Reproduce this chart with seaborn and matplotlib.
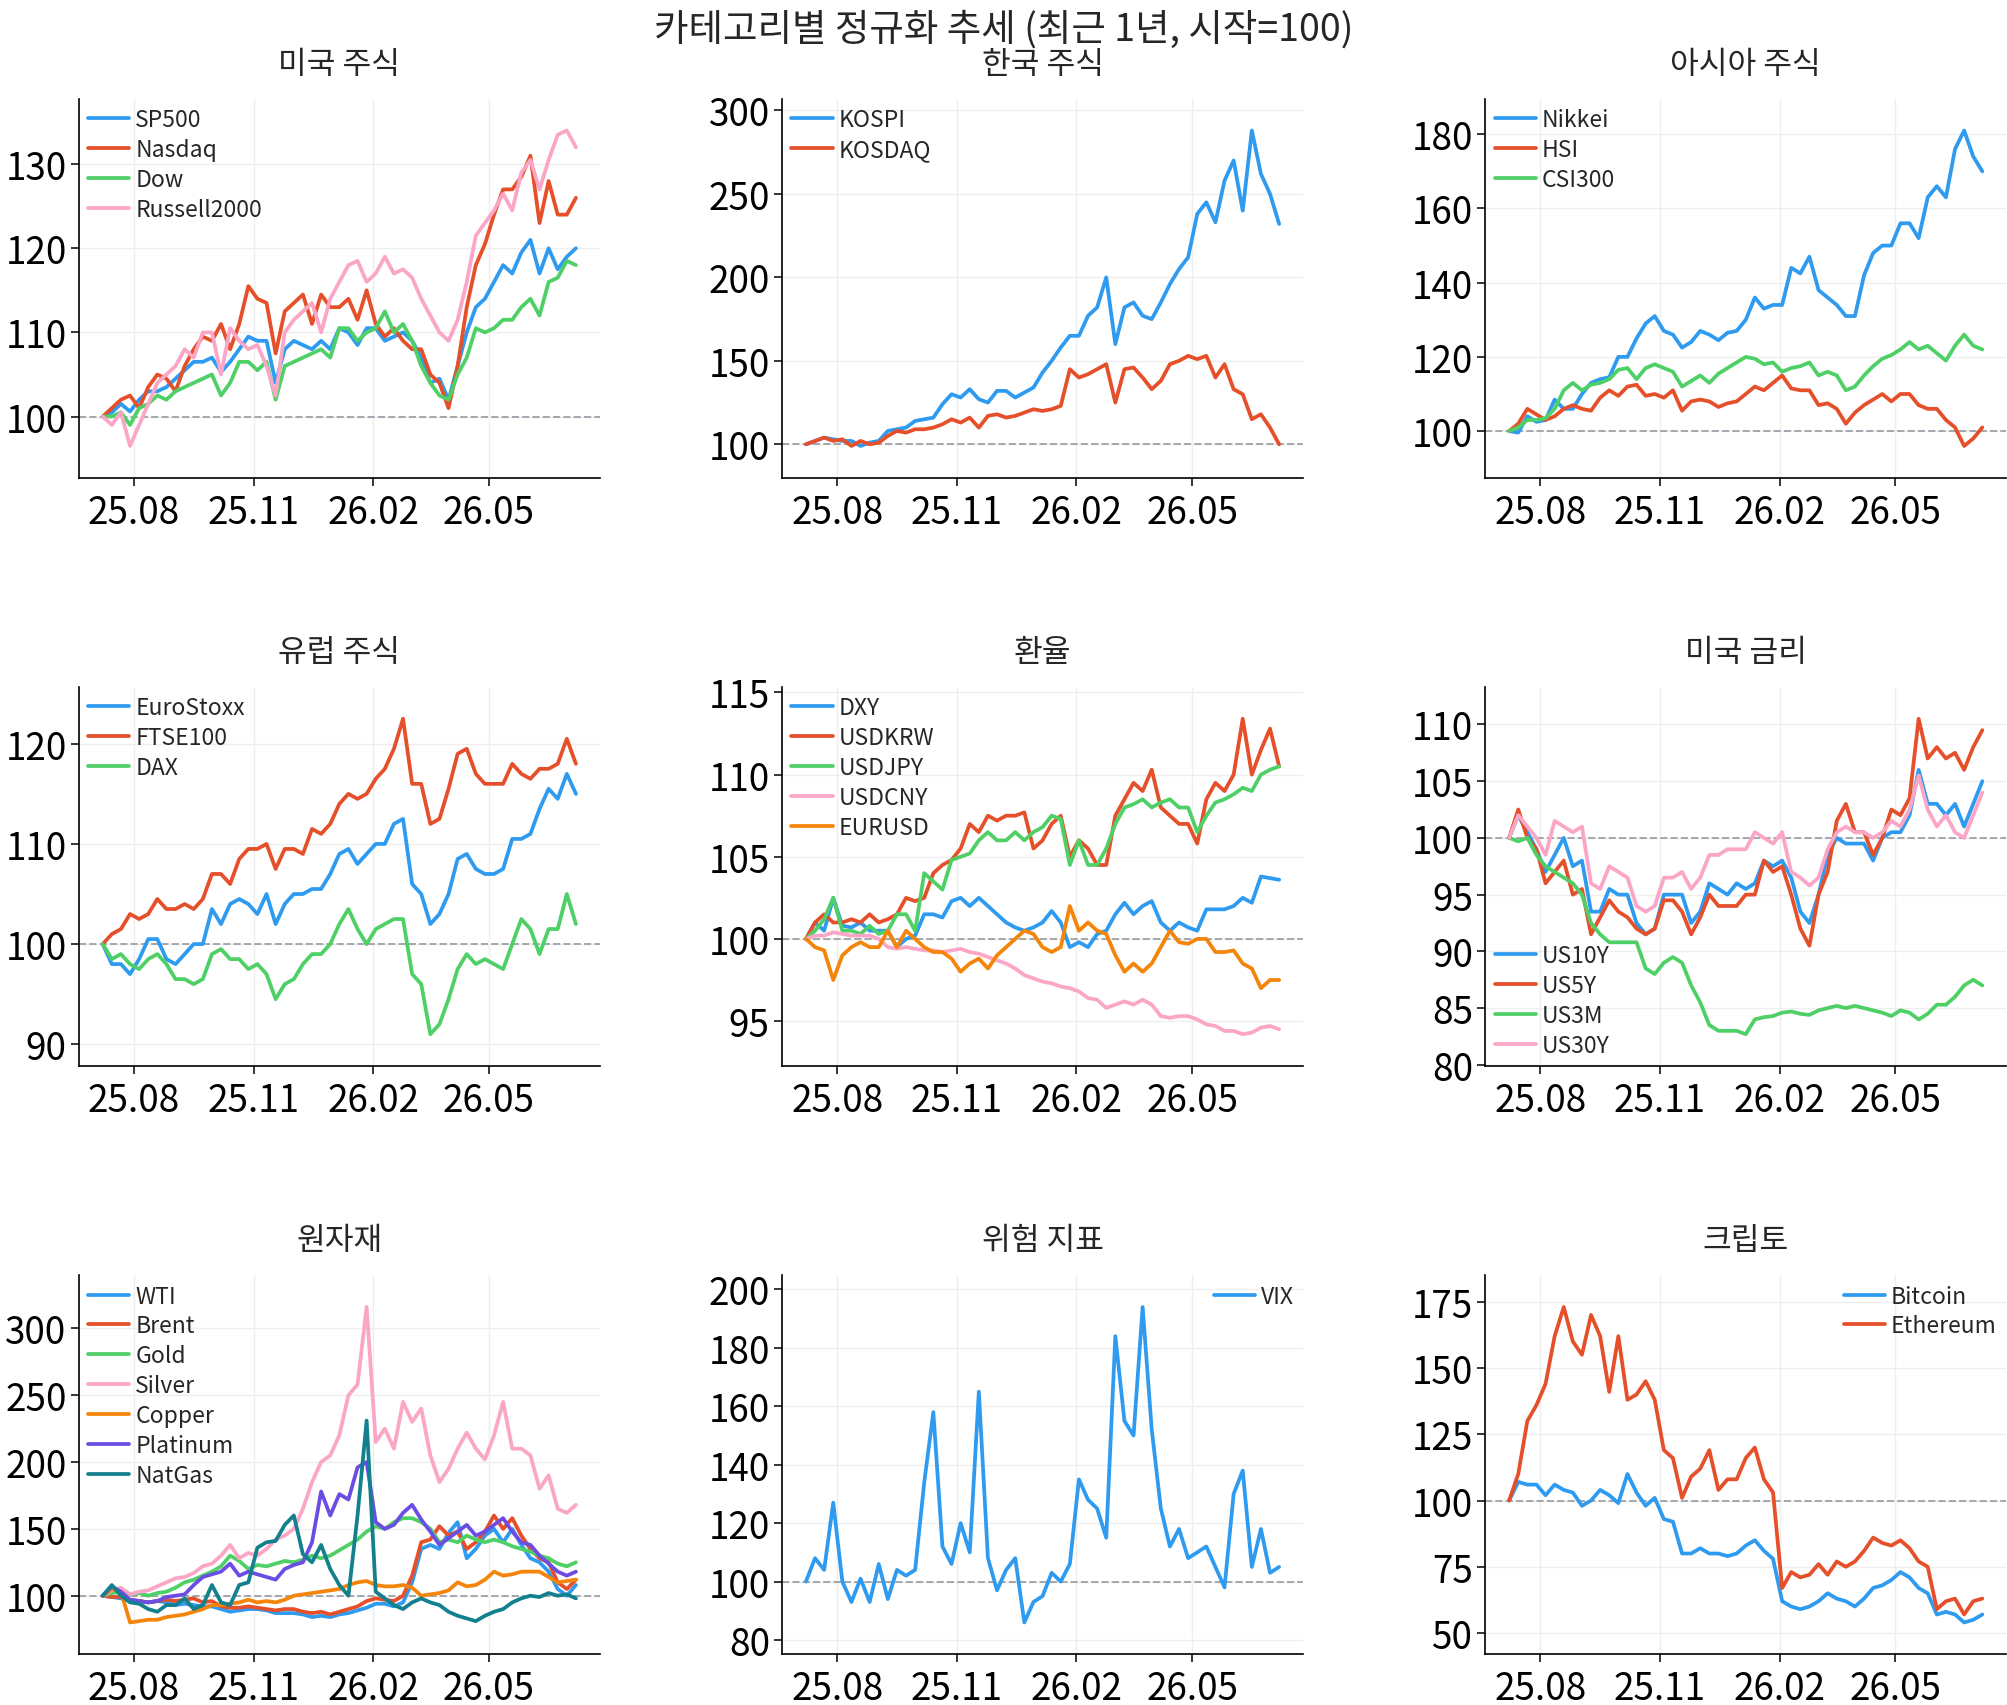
import pandas as pd
import matplotlib
matplotlib.use('Agg')
import matplotlib.pyplot as plt
import matplotlib.dates as mdates
from matplotlib.ticker import MaxNLocator
import seaborn as sns

sns.set_theme(style='ticks')
plt.rcParams['font.family'] = ['Noto Sans CJK KR', 'DejaVu Sans']
plt.rcParams['axes.unicode_minus'] = False

# 주간 샘플 (시작=100)
dates = pd.date_range('2025-07-08', periods=53, freq='7D')

SP500 = [100, 100.5, 101.5, 100.6, 102, 103, 103, 103.5, 104.5, 105.5, 106.5, 106.5, 107, 105.3, 106.5, 108, 109.5, 109, 109, 104,
         108, 109, 108.5, 108, 109, 108, 110.5, 110, 108.5, 110.5, 110.5, 109, 109.5, 110, 109, 107, 104, 104.5, 102, 106,
         110, 113, 114, 116, 118, 117, 119.5, 121, 117, 120, 117.5, 119, 120]
Nasdaq = [100, 101, 102, 102.5, 101, 103.5, 105, 104.5, 103, 106, 108, 109.5, 109, 111, 108, 111, 115.5, 114, 113.5, 107.5,
          112.5, 113.5, 114.5, 111, 114.5, 113, 113, 114, 111.5, 115, 111, 109.5, 110.5, 109, 108, 108, 105, 104, 101, 106,
          113, 118, 120.5, 124, 127, 127, 128.5, 131, 123, 128, 124, 124, 126]
Dow = [100, 100, 100.5, 99, 101, 101.5, 102.5, 102, 103, 103.5, 104, 104.5, 105, 102.5, 104, 106.5, 106.5, 105.5, 106.5, 102,
       106, 106.5, 107, 107.5, 108, 107, 110.5, 110.5, 109, 110, 110.5, 112.5, 110, 111, 109, 106, 104, 102.5, 102, 105,
       107, 110.5, 110, 110.5, 111.5, 111.5, 113, 114, 112, 116, 116.5, 118.5, 118]
Russell2000 = [100, 99, 100.5, 96.5, 99, 101.5, 104, 105, 106, 108, 107, 110, 110, 105, 110.5, 109, 108, 108.5, 106, 102.5,
               110, 111.5, 112.5, 113.5, 110, 114, 116, 118, 118.5, 116, 117, 119, 117, 117.5, 116.5, 114, 112, 110, 109, 111.5,
               116, 121.5, 123, 124.5, 126.5, 124.5, 129, 130.5, 127, 130.5, 133.5, 134, 132]

KOSPI = [100, 102, 104, 103, 102, 102, 99, 101, 102, 108, 109, 110, 114, 115, 116, 124, 130, 128, 133, 127,
         125, 132, 132, 128, 131, 134, 143, 150, 158, 165, 165, 177, 182, 200, 160, 182, 185, 177, 175, 185,
         196, 205, 212, 238, 245, 233, 258, 270, 240, 288, 262, 250, 232]
KOSDAQ = [100, 102, 104, 102, 103, 99, 102, 100, 101, 105, 108, 107, 109, 109, 110, 112, 115, 113, 116, 110,
          117, 118, 116, 117, 119, 121, 120, 121, 123, 145, 140, 142, 145, 148, 125, 145, 146, 140, 133, 138,
          148, 150, 153, 151, 153, 140, 148, 133, 130, 115, 118, 110, 100]

Nikkei = [100, 99.6, 104, 102.5, 103, 108.5, 106, 106, 110, 113, 114, 114.5, 120, 120, 125, 129, 131, 127, 126, 122.5,
          124, 127, 126, 124.5, 126.5, 127, 130, 136, 133, 134, 134, 144, 142.5, 147, 138, 136, 134, 131, 131, 142,
          148, 150, 150, 156, 156, 152, 163, 166, 163, 176, 181, 174, 170]
HSI = [100, 102, 106, 104.5, 103, 104, 106, 107, 106, 105.5, 109, 111, 109.5, 112, 112.5, 109.5, 110, 109, 111, 105.5,
       108, 108.5, 108, 106.5, 107.5, 108, 110, 112, 111, 113, 115, 111.5, 111, 111, 107, 107.5, 106, 102, 105, 107,
       108.5, 110, 108, 110, 110, 107, 106, 106, 103, 101, 96, 98, 101]
CSI300 = [100, 101, 103, 103, 103.5, 106, 111, 113, 111, 112.5, 113, 114, 116.5, 117, 114, 117, 118, 117, 116, 112,
          113.5, 115, 113, 115.5, 117, 118.5, 120, 119.5, 118, 118.5, 116, 117, 117.5, 118.5, 115, 116, 115, 111, 112, 115,
          117.5, 119.5, 120.5, 122, 124, 122, 123, 121, 119, 123, 126, 123, 122]

EuroStoxx = [100, 98, 98, 97, 98.5, 100.5, 100.5, 98.5, 98, 99, 100, 100, 103.5, 102, 104, 104.5, 104, 103, 105, 102,
             104, 105, 105, 105.5, 105.5, 107, 109, 109.5, 108, 109, 110, 110, 112, 112.5, 106, 105, 102, 103, 105, 108.5,
             109, 107.5, 107, 107, 107.5, 110.5, 110.5, 111, 113.5, 115.5, 114.5, 117, 115]
FTSE100 = [100, 101, 101.5, 103, 102.5, 103, 104.5, 103.5, 103.5, 104, 103.5, 104.5, 107, 107, 106, 108.5, 109.5, 109.5, 110, 107.5,
           109.5, 109.5, 109, 111.5, 111, 112, 114, 115, 114.5, 115, 116.5, 117.5, 119.5, 122.5, 116, 116, 112, 112.5, 115.5, 119,
           119.5, 117, 116, 116, 116, 118, 117, 116.5, 117.5, 117.5, 118, 120.5, 118]
DAX = [100, 98.5, 99, 98, 97.5, 98.5, 99, 98, 96.5, 96.5, 96, 96.5, 99, 99.5, 98.5, 98.5, 97.5, 98, 97, 94.5,
       96, 96.5, 98, 99, 99, 100, 102, 103.5, 101.5, 100, 101.5, 102, 102.5, 102.5, 97, 96, 91, 92, 94.5, 97.5,
       99, 98, 98.5, 98, 97.5, 100, 102.5, 101.5, 99, 101.5, 101.5, 105, 102]

DXY = [100, 101, 100.5, 102.5, 100.8, 100.7, 101, 100.5, 100.5, 100.5, 99.5, 100, 100.2, 101.5, 101.5, 101.3, 102.3, 102.5, 102, 102.5,
       102, 101.5, 101, 100.7, 100.5, 100.7, 101, 101.7, 101, 99.5, 99.8, 99.5, 100.3, 100.5, 101.5, 102.2, 101.5, 102, 102.3, 101,
       100.5, 101, 100.7, 100.5, 101.8, 101.8, 101.8, 102, 102.5, 102.2, 103.8, 103.7, 103.6]
USDKRW = [100, 101, 101.5, 101, 101, 101.2, 101, 101.5, 101, 101.2, 101.5, 102.5, 102.3, 102.5, 104, 104.5, 104.8, 105.5, 107, 106.5,
          107.5, 107.2, 107.5, 107.5, 107.7, 105.5, 106, 107, 107.5, 105, 106, 105.5, 104.5, 104.5, 107.5, 108.5, 109.5, 109, 110.3, 108,
          107.5, 107, 107, 105.8, 108.5, 109.5, 109, 110, 113.4, 110, 111.5, 112.8, 110.5]
USDJPY = [100, 100.5, 101.2, 102.5, 100.5, 100.5, 100.3, 100.8, 100.3, 100.5, 101.5, 101.5, 100.5, 104, 103.5, 103, 104.8, 105, 105.2, 106,
          106.5, 106, 106, 106.5, 106, 106.5, 106.8, 107.5, 107.3, 104.5, 106, 104.5, 104.5, 105.5, 107, 108, 108.2, 108.5, 108, 108.3,
          108.5, 108, 108, 106.5, 107.5, 108.3, 108.5, 108.8, 109.2, 109, 110, 110.3, 110.5]
USDCNY = [100, 100.2, 100.2, 100.4, 100.3, 100.2, 100.2, 100.2, 100, 99.5, 99.4, 99.5, 99.4, 99.3, 99.3, 99.2, 99.3, 99.4, 99.2, 99.1,
          98.9, 98.7, 98.5, 98.2, 97.8, 97.6, 97.4, 97.3, 97.1, 97, 96.8, 96.4, 96.3, 95.8, 96, 96.2, 96, 96.3, 96, 95.3,
          95.2, 95.3, 95.3, 95.1, 94.8, 94.7, 94.4, 94.4, 94.2, 94.3, 94.6, 94.7, 94.5]
EURUSD = [100, 99.5, 99.3, 97.5, 99, 99.5, 99.8, 99.5, 99.5, 100.5, 99.5, 100.5, 100, 99.5, 99.2, 99.2, 98.8, 98, 98.5, 98.8,
          98.2, 99, 99.5, 100, 100.5, 100.3, 99.5, 99.2, 99.5, 102, 100.5, 101, 100.5, 100.3, 99, 98, 98.5, 98, 98.5, 99.5,
          100.5, 99.8, 99.7, 100, 100, 99.2, 99.2, 99.3, 98.5, 98.2, 97, 97.5, 97.5]

US10Y = [100, 102, 100.5, 99, 97, 98.5, 100, 97.5, 98, 93.5, 93.5, 95.5, 95, 95, 92.5, 91.5, 92, 95, 95, 95,
         92.5, 93.5, 96, 95.5, 95, 96, 95.5, 96, 98, 97.5, 98, 96.5, 93.5, 92.5, 95, 98.5, 100, 99.5, 99.5, 99.5,
         98, 100, 100.5, 100.5, 102, 106, 103, 103, 102, 103, 101, 103, 105]
US5Y = [100, 102.5, 100, 99, 96, 97, 98, 95, 95.5, 91.5, 93, 94.5, 93.5, 93, 92, 91.5, 92, 94.5, 94.5, 93.5,
        91.5, 93, 95, 94, 94, 94, 95, 95, 98, 97, 97.5, 95, 92, 90.5, 95, 97, 101.5, 103, 100.5, 100.5,
        98.5, 100, 102.5, 102, 103.5, 110.5, 107, 108, 107, 107.5, 106, 108, 109.5]
US3M = [100, 99.7, 100, 98.5, 97.5, 97, 96.5, 96, 95, 92.5, 91.5, 90.8, 90.8, 90.8, 90.8, 88.5, 88, 89, 89.5, 89,
        87, 85.5, 83.5, 83, 83, 83, 82.7, 84, 84.2, 84.3, 84.6, 84.7, 84.5, 84.4, 84.8, 85, 85.2, 85, 85.2, 85,
        84.8, 84.6, 84.3, 84.8, 84.6, 84, 84.5, 85.3, 85.3, 86, 87, 87.5, 87]
US30Y = [100, 102, 101, 100, 98.5, 101.5, 101, 100.5, 101, 96, 95.5, 97.5, 97, 96.5, 94, 93.5, 94, 96.5, 96.5, 97,
         95.5, 96.5, 98.5, 98.5, 99, 99, 99, 100.5, 100, 99.5, 100.5, 97, 96.5, 95.8, 96.5, 99, 100.5, 101, 100.5, 100.5,
         100, 100.5, 101.5, 101, 102.5, 105.5, 102.5, 101, 102, 100.5, 100, 102, 104]

WTI = [100, 99, 98, 97, 96, 95, 96, 95, 93, 94, 93, 92, 92, 90, 88, 89, 90, 90, 89, 87,
       87, 87, 86, 84, 85, 84, 86, 87, 89, 91, 94, 94, 92, 95, 110, 135, 138, 135, 147, 155,
       128, 135, 145, 150, 140, 150, 138, 128, 125, 118, 105, 100, 108]
Brent = [100, 99, 99, 97, 96, 95, 96, 97, 96, 97, 98, 95, 96, 92, 91, 91, 92, 91, 90, 89,
         90, 90, 88, 87, 88, 86, 88, 90, 92, 96, 98, 97, 96, 100, 115, 140, 142, 152, 145, 148,
         135, 140, 148, 160, 150, 158, 145, 135, 128, 125, 110, 105, 112]
Gold = [100, 102, 103, 101, 102, 100, 102, 103, 106, 110, 112, 115, 118, 122, 130, 126, 120, 123, 122, 124,
        126, 125, 127, 130, 128, 130, 134, 138, 142, 148, 152, 150, 155, 158, 158, 155, 150, 140, 142, 140,
        145, 142, 140, 142, 140, 137, 135, 133, 130, 128, 124, 122, 125]
Silver = [100, 104, 106, 101, 103, 104, 107, 110, 113, 114, 117, 122, 124, 130, 138, 128, 132, 130, 135, 142,
          145, 150, 165, 185, 200, 205, 220, 250, 258, 316, 215, 225, 210, 245, 230, 240, 205, 185, 195, 210,
          222, 210, 202, 220, 245, 210, 210, 205, 180, 190, 165, 162, 168]
Copper = [100, 105, 103, 80, 81, 82, 82, 84, 85, 86, 88, 90, 93, 93, 94, 95, 97, 95, 96, 95,
          97, 100, 101, 102, 103, 104, 105, 108, 110, 111, 108, 107, 107, 108, 106, 100, 101, 102, 104, 110,
          107, 108, 112, 118, 115, 116, 118, 118, 118, 114, 110, 111, 112]
Platinum = [100, 107, 103, 97, 96, 95, 96, 99, 100, 101, 108, 114, 116, 118, 124, 115, 118, 116, 114, 112,
            120, 123, 125, 140, 178, 160, 176, 172, 196, 200, 155, 150, 153, 162, 168, 157, 148, 138, 143, 148,
            153, 145, 148, 153, 158, 148, 140, 138, 130, 124, 118, 115, 118]
NatGas = [100, 108, 100, 95, 94, 90, 88, 93, 93, 98, 90, 93, 108, 95, 93, 108, 110, 136, 140, 141,
          153, 160, 131, 125, 138, 120, 108, 100, 160, 231, 103, 98, 93, 90, 95, 98, 95, 93, 88, 85,
          83, 81, 85, 88, 90, 95, 98, 100, 99, 102, 100, 101, 98]

VIX = [100, 108, 104, 127, 100, 93, 101, 93, 106, 94, 104, 102, 104, 134, 158, 112, 106, 120, 110, 165,
       108, 97, 104, 108, 86, 93, 95, 103, 100, 106, 135, 128, 125, 115, 184, 155, 150, 194, 152, 125,
       112, 118, 108, 110, 112, 105, 98, 130, 138, 105, 118, 103, 105]

Bitcoin = [100, 107, 106, 106, 102, 106, 104, 103, 98, 100, 104, 102, 99, 110, 103, 98, 101, 93, 92, 80,
           80, 82, 80, 80, 79, 80, 83, 85, 81, 78, 62, 60, 59, 60, 62, 65, 63, 62, 60, 63,
           67, 68, 70, 73, 71, 67, 65, 57, 58, 57, 54, 55, 57]
Ethereum = [100, 110, 130, 136, 144, 162, 173, 160, 155, 170, 162, 141, 162, 138, 140, 145, 138, 119, 116, 101,
            109, 112, 119, 104, 108, 108, 116, 120, 108, 103, 67, 73, 71, 72, 76, 72, 77, 75, 77, 81,
            86, 84, 83, 85, 82, 77, 75, 59, 62, 63, 57, 62, 63]

COLORS = ['#2E9BF0', '#E5502A', '#4FD066', '#FBA6C6', '#F5850A', '#6B4DE3', '#13808E']

panels = [
    ('미국 주식', {'SP500': SP500, 'Nasdaq': Nasdaq, 'Dow': Dow, 'Russell2000': Russell2000}, 'upper left'),
    ('한국 주식', {'KOSPI': KOSPI, 'KOSDAQ': KOSDAQ}, 'upper left'),
    ('아시아 주식', {'Nikkei': Nikkei, 'HSI': HSI, 'CSI300': CSI300}, 'upper left'),
    ('유럽 주식', {'EuroStoxx': EuroStoxx, 'FTSE100': FTSE100, 'DAX': DAX}, 'upper left'),
    ('환율', {'DXY': DXY, 'USDKRW': USDKRW, 'USDJPY': USDJPY, 'USDCNY': USDCNY, 'EURUSD': EURUSD}, 'upper left'),
    ('미국 금리', {'US10Y': US10Y, 'US5Y': US5Y, 'US3M': US3M, 'US30Y': US30Y}, 'lower left'),
    ('원자재', {'WTI': WTI, 'Brent': Brent, 'Gold': Gold, 'Silver': Silver, 'Copper': Copper,
             'Platinum': Platinum, 'NatGas': NatGas}, 'upper left'),
    ('위험 지표', {'VIX': VIX}, 'upper right'),
    ('크립토', {'Bitcoin': Bitcoin, 'Ethereum': Ethereum}, 'upper right'),
]

fig, axes = plt.subplots(3, 3, figsize=(20.07, 17.06), dpi=100)
fig.subplots_adjust(left=0.0394, right=0.9995, top=0.9414, bottom=0.0299, wspace=0.351, hspace=0.554)

for ax, (title, series, loc) in zip(axes.flat, panels):
    df = pd.DataFrame(series, index=dates)
    long = df.reset_index(names='date').melt(id_vars='date', var_name='name', value_name='value')
    sns.lineplot(data=long, x='date', y='value', hue='name', palette=COLORS[:len(series)],
                 linewidth=2.7, ax=ax)
    ax.axhline(100, color='#A3A8AE', ls='--', lw=1.4, zorder=1)
    ax.margins(x=0.05, y=0.1)
    ax.set_title(title, fontsize=22.5, pad=19)
    ax.set_xlabel('')
    ax.set_ylabel('')
    ax.xaxis.set_major_locator(mdates.MonthLocator(bymonth=[2, 5, 8, 11]))
    ax.xaxis.set_major_formatter(mdates.DateFormatter('%y.%m'))
    ax.yaxis.set_major_locator(MaxNLocator(nbins=7, steps=[1, 2, 2.5, 5, 10]))
    ax.tick_params(labelsize=26.5, length=6, width=1.1, color='black', labelcolor='black')
    ax.tick_params(axis='x', pad=5)
    ax.tick_params(axis='y', pad=3)
    ax.grid(True, color='#EEEEEE', lw=1)
    ax.set_axisbelow(True)
    for s in ('left', 'bottom'):
        ax.spines[s].set_color('black')
        ax.spines[s].set_linewidth(1.2)
    sns.despine(ax=ax)
    ax.legend(loc=loc, frameon=False, fontsize=16.5, handlelength=1.8, handletextpad=0.25,
              labelspacing=0.3, borderaxespad=0.1, borderpad=0.3)

fig.suptitle('카테고리별 정규화 추세 (최근 1년, 시작=100)', fontsize=27, y=0.994)
fig.savefig('out.png', dpi=100)
